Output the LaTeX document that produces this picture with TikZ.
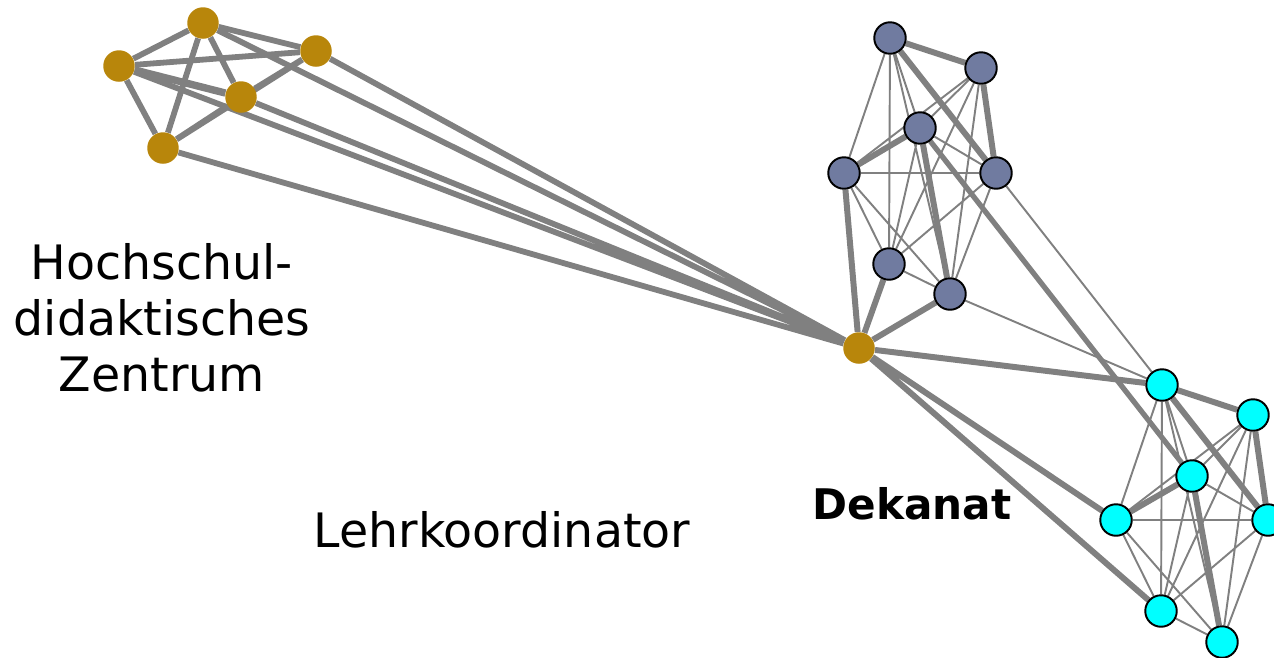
\documentclass[tikz,border=0pt]{standalone}
\usepackage{fontspec}
\setmainfont{DejaVu Sans}
\usepackage{xcolor}
\usetikzlibrary{backgrounds}
\definecolor{dgold}{RGB}{184,134,11}
\definecolor{slate}{RGB}{112,123,160}
\definecolor{aqua}{RGB}{0,255,255}
\definecolor{linkgray}{RGB}{128,128,128}

\begin{document}
\begin{tikzpicture}[x=0.02cm,y=-0.02cm]
\tikzset{member/.style={circle,inner sep=0pt,minimum size=0.63cm},
goldnode/.style={member,fill=dgold},
slatenode/.style={member,fill=slate,draw=black,line width=1.1pt},
cyannode/.style={member,fill=aqua,draw=black,line width=1.1pt},
tie/.style={draw=linkgray,line width=1.1pt},
strongtie/.style={draw=linkgray,line width=3.4pt},
goldtie/.style={draw=linkgray,line width=3.3pt},
label/.style={font=\fontsize{27}{32}\selectfont,align=center}}
\useasboundingbox (0,0) rectangle (1274,657);
% gold group
\node[goldnode](g1) at (203,23){};
\node[goldnode](g2) at (119,66){};
\node[goldnode](g3) at (316,51){};
\node[goldnode](g4) at (241,97){};
\node[goldnode](g5) at (163,148){};
\node[goldnode](hub) at (859,348){};
% slate group
\node[slatenode](b1) at (890,38){};
\node[slatenode](b2) at (981,68){};
\node[slatenode](b3) at (920,128){};
\node[slatenode](b4) at (844,173){};
\node[slatenode](b5) at (996,173){};
\node[slatenode](b6) at (889,264){};
\node[slatenode](b7) at (950,294){};
% cyan group
\node[cyannode](c1) at (1162,385){};
\node[cyannode](c2) at (1253,415){};
\node[cyannode](c3) at (1192,476){};
\node[cyannode](c4) at (1116,520){};
\node[cyannode](c5) at (1268,520){};
\node[cyannode](c6) at (1161,611){};
\node[cyannode](c7) at (1222,642){};
% labels
\node[label](hdz) at (162,318){Hochschul-\\didaktisches\\Zentrum};
\node[label](lk) at (502,530){Lehrkoordinator};
\node[font=\fontsize{24}{28}\selectfont\bfseries](dek) at (912,504){Dekanat};
\begin{scope}[on background layer]
% gold ties
\draw[goldtie](g1) -- (g2) (g1) -- (g3) (g1) -- (g4) (g1) -- (g5);
\draw[goldtie](g2) -- (g3) (g2) -- (g5) (g3) -- (g4) (g3) -- (g5) (g4) -- (g5);
\draw[draw=linkgray,line width=4.2pt](g2) -- (g4);
\draw[goldtie](g1) -- (hub) (g2) -- (hub) (g3) -- (hub) (g4) -- (hub) (g5) -- (hub);
% slate ties
\draw[strongtie](b1) -- (b2) (b1) -- (b5) (b2) -- (b5) (b3) -- (b4) (b3) -- (b7);
\draw[tie](b1) -- (b3) (b1) -- (b4) (b1) -- (b6) (b1) -- (b7) (b2) -- (b3) (b2) -- (b4)
 (b2) -- (b6) (b2) -- (b7) (b3) -- (b5) (b3) -- (b6) (b4) -- (b5) (b4) -- (b6)
 (b4) -- (b7) (b5) -- (b6) (b5) -- (b7) (b6) -- (b7);
% cyan ties
\draw[strongtie](c1) -- (c2) (c1) -- (c5) (c2) -- (c5) (c3) -- (c4) (c3) -- (c7);
\draw[tie](c1) -- (c3) (c1) -- (c4) (c1) -- (c6) (c1) -- (c7) (c2) -- (c3) (c2) -- (c4)
 (c2) -- (c6) (c2) -- (c7) (c3) -- (c5) (c3) -- (c6) (c4) -- (c5) (c4) -- (c6)
 (c4) -- (c7) (c5) -- (c6) (c5) -- (c7) (c6) -- (c7);
% between groups
\draw[strongtie](hub) -- (b4) (hub) -- (b6) (hub) -- (b7) (hub) -- (c1) (hub) -- (c4) (hub) -- (c6);
\draw[draw=linkgray,line width=3pt](b3) -- (c3);
\draw[tie](b5) -- (c1) (b7) -- (c1);
\end{scope}
\end{tikzpicture}
\end{document}
